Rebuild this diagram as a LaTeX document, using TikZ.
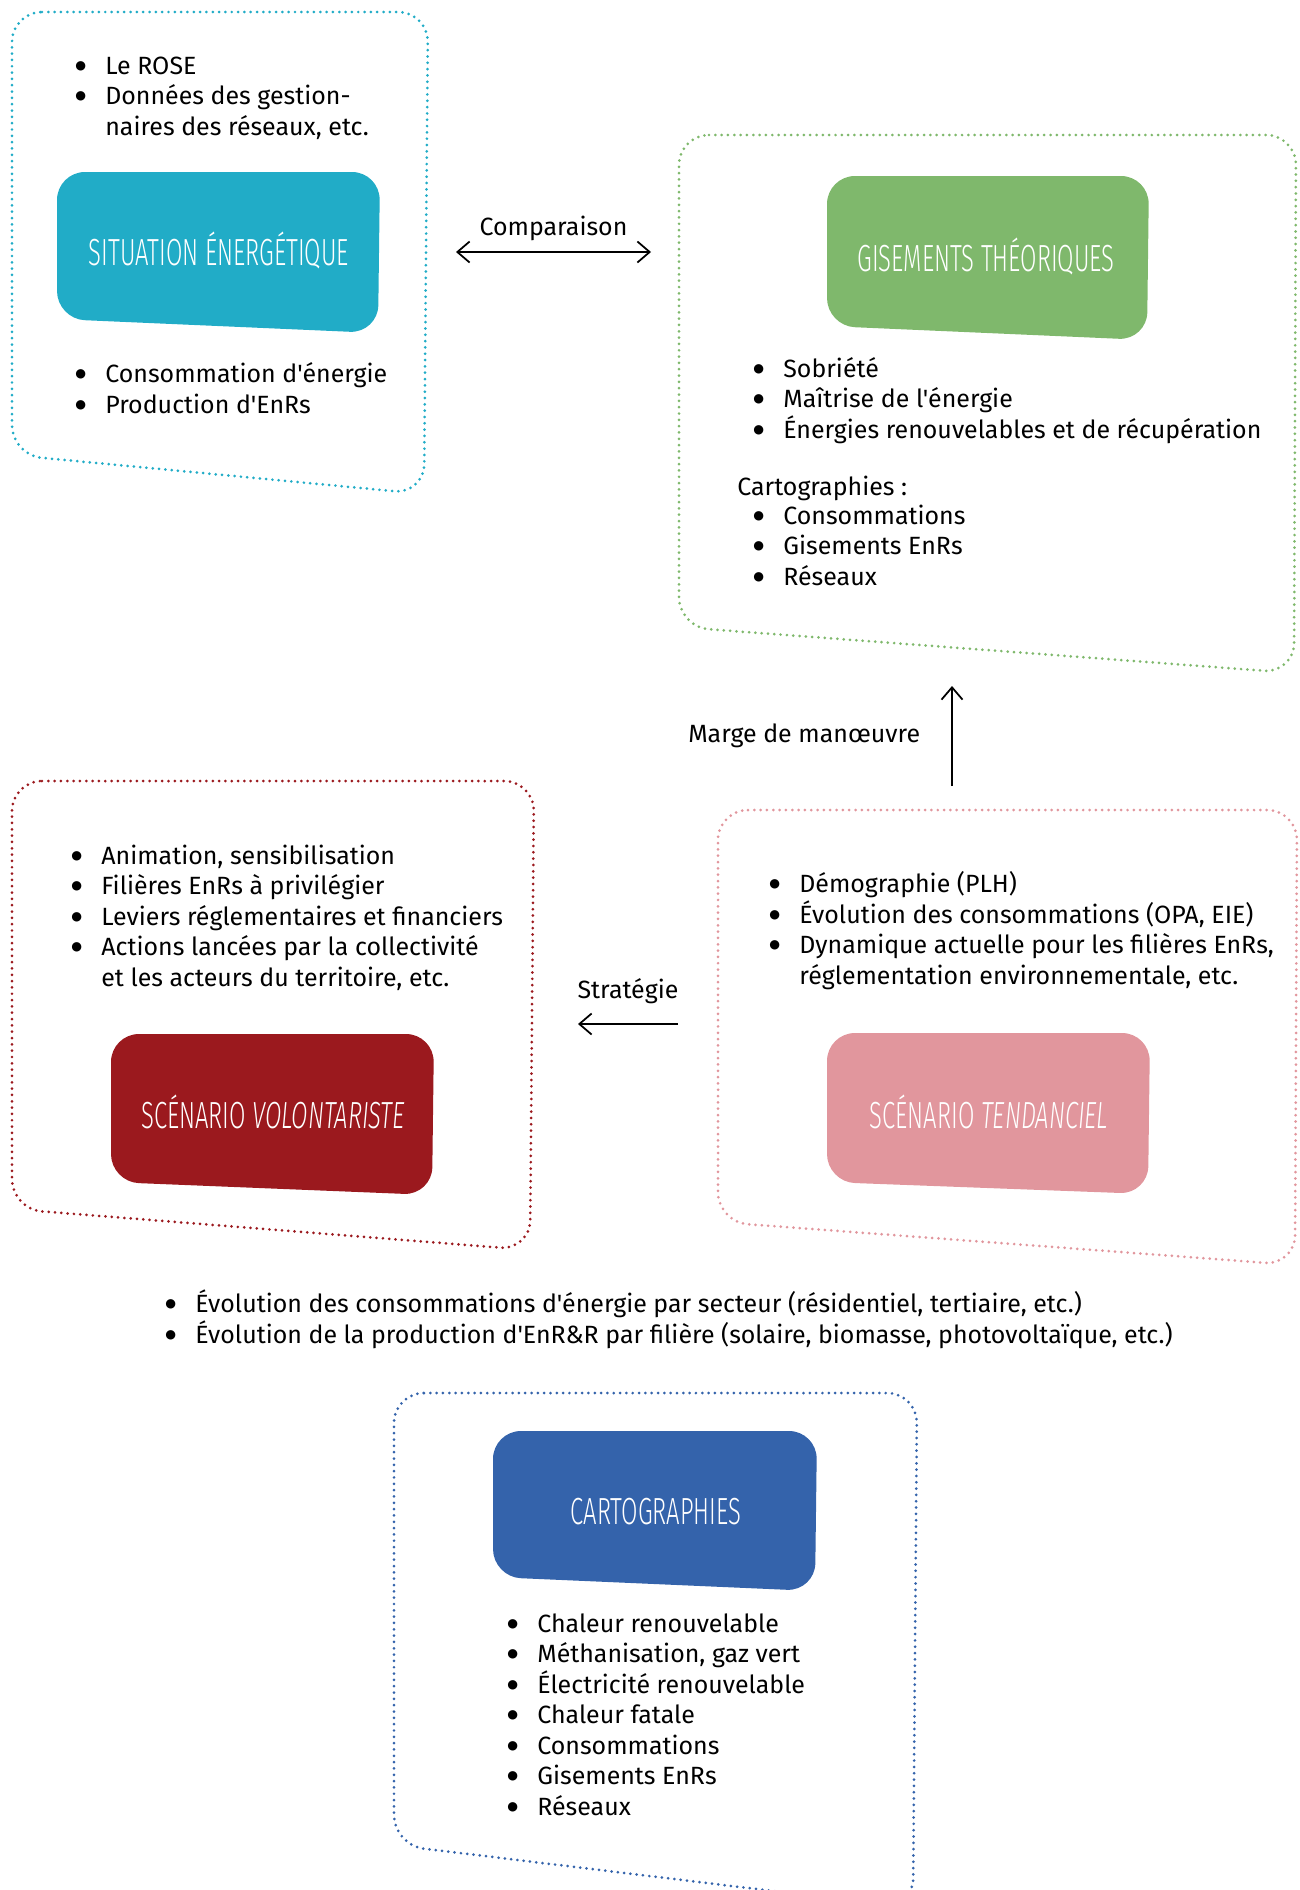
\documentclass[tikz,border=0pt]{standalone}
\usepackage{fontspec}
\setmainfont{Fira Sans}[Ligatures=TeXOff]
\newfontfamily\titlefont[FakeStretch=0.63]{Fira Sans Light}
\newfontfamily\bulfont{DejaVu Sans}
\definecolor{sitcyan}{RGB}{33, 172, 199}
\definecolor{gisgreen}{RGB}{127, 184, 108}
\definecolor{volred}{RGB}{155, 25, 30}
\definecolor{tendpink}{RGB}{225, 150, 157}
\definecolor{cartoblue}{RGB}{52, 99, 171}
\usetikzlibrary{arrows.meta, positioning}
\newcommand{\bul}{\makebox[0.6cm][l]{\raisebox{2.6pt}{\bulfont\fontsize{7}{7}\selectfont ●}}}
\newcommand{\ind}{\hspace*{0.6cm}}

\begin{document}
\begin{tikzpicture}[x=0.02cm, y=-0.02cm,
  dotbox/.style={line width=1.7pt, dash pattern=on 0pt off 3.6pt, line cap=round, rounded corners=0.6cm},
  tagbox/.style={rounded corners=0.56cm},
  tagtitle/.style={font=\titlefont\fontsize{21.5}{21.5}\selectfont, text=white, inner sep=0, text height=0.52cm, text depth=0pt},
  bullets/.style={font=\fontsize{14.2}{17.36}\selectfont, align=left, anchor=base west, inner sep=0},
  arrowlabel/.style={font=\fontsize{14.2}{17.36}\selectfont, inner sep=0},
  link/.style={line width=1pt},
  >={Straight Barb[length=7pt, width=12pt]}]
  \useasboundingbox (0,0) rectangle (1299,1890);
  \clip (0,0) rectangle (1299,1890);

  \draw[dotbox, sitcyan] (12,12) -- (428,12) -- (424,494) -- (12,455) -- cycle;
  \fill[tagbox, sitcyan] (57,172) -- (380,172) -- (378,333) -- (57,319) -- cycle;
  \node[tagtitle] (sit) at (219,252) {SITUATION ÉNERGÉTIQUE};
  \node[bullets] (sitsrc) at (75,135) {\bul Le ROSE\\\bul Données des gestion-\\\ind naires des réseaux, etc.};
  \node[bullets] (sitdata) at (75,413) {\bul Consommation d'énergie\\\bul Production d'EnRs};

  \coordinate (cmpL) at (456,252);
  \coordinate (cmpR) at (651,252);
  \draw[<->, link] (cmpL) -- (cmpR) node[arrowlabel, midway, above=0.2cm] (cmp) {Comparaison};

  \draw[dotbox, gisgreen] (679,135) -- (1296,135) -- (1294,673) -- (679,627) -- cycle;
  \fill[tagbox, gisgreen] (827,176) -- (1149,176) -- (1147,340) -- (827,326) -- cycle;
  \node[tagtitle] (gis) at (986,258) {GISEMENTS THÉORIQUES};
  \node[bullets] (gislev) at (753,438) {\bul Sobriété\\\bul Maîtrise de l'énergie\\\bul Énergies renouvelables et de récupération};
  \node[bullets] (giscarto) at (737,495) {Cartographies :};
  \node[bullets] (gismaps) at (753,585) {\bul Consommations\\\bul Gisements EnRs\\\bul Réseaux};

  \coordinate (mrgB) at (952,786);
  \coordinate (mrgT) at (952,686);
  \draw[->, link] (mrgB) -- (mrgT) node[arrowlabel, midway, left=0.62cm] (mrg) {Marge de manœuvre};

  \draw[dotbox, volred] (12,781) -- (534,781) -- (530,1250) -- (12,1209) -- cycle;
  \fill[tagbox, volred] (111,1034) -- (434,1034) -- (432,1195) -- (111,1182) -- cycle;
  \node[tagtitle] (vol) at (273,1115) {SCÉNARIO {\itshape VOLONTARISTE}};
  \node[bullets] (vollev) at (71,986) {\bul Animation, sensibilisation\\\bul Filières EnRs à privilégier\\\bul Leviers réglementaires et financiers\\\bul Actions lancées par la collectivité\\\ind et les acteurs du territoire, etc.};

  \coordinate (strR) at (678,1024);
  \coordinate (strL) at (578,1024);
  \draw[->, link] (strR) -- (strL) node[arrowlabel, midway, above=0.38cm] (str) {Stratégie};

  \draw[dotbox, tendpink] (718,810) -- (1297,810) -- (1295,1265) -- (718,1222) -- cycle;
  \fill[tagbox, tendpink] (827,1033) -- (1150,1033) -- (1148,1194) -- (827,1182) -- cycle;
  \node[tagtitle] (tend) at (989,1115) {SCÉNARIO {\itshape TENDANCIEL}};
  \node[bullets] (tendlev) at (769,984) {\bul Démographie (PLH)\\\bul Évolution des consommations (OPA, EIE)\\\bul Dynamique actuelle pour les filières EnRs,\\\ind réglementation environnementale, etc.};

  \node[bullets] (evol) at (165,1343) {\bul Évolution des consommations d'énergie par secteur (résidentiel, tertiaire, etc.)\\\bul Évolution de la production d'EnR\&R par filière (solaire, biomasse, photovoltaïque, etc.)};

  \draw[dotbox, cartoblue] (394,1393) -- (917,1393) -- (913,1908) -- (394,1845) -- cycle;
  \fill[tagbox, cartoblue] (493,1431) -- (817,1431) -- (815,1591) -- (493,1577) -- cycle;
  \node[tagtitle] (carto) at (656,1511) {CARTOGRAPHIES};
  \node[bullets] (cartolev) at (507,1815) {\bul Chaleur renouvelable\\\bul Méthanisation, gaz vert\\\bul Électricité renouvelable\\\bul Chaleur fatale\\\bul Consommations\\\bul Gisements EnRs\\\bul Réseaux};
\end{tikzpicture}
\end{document}
